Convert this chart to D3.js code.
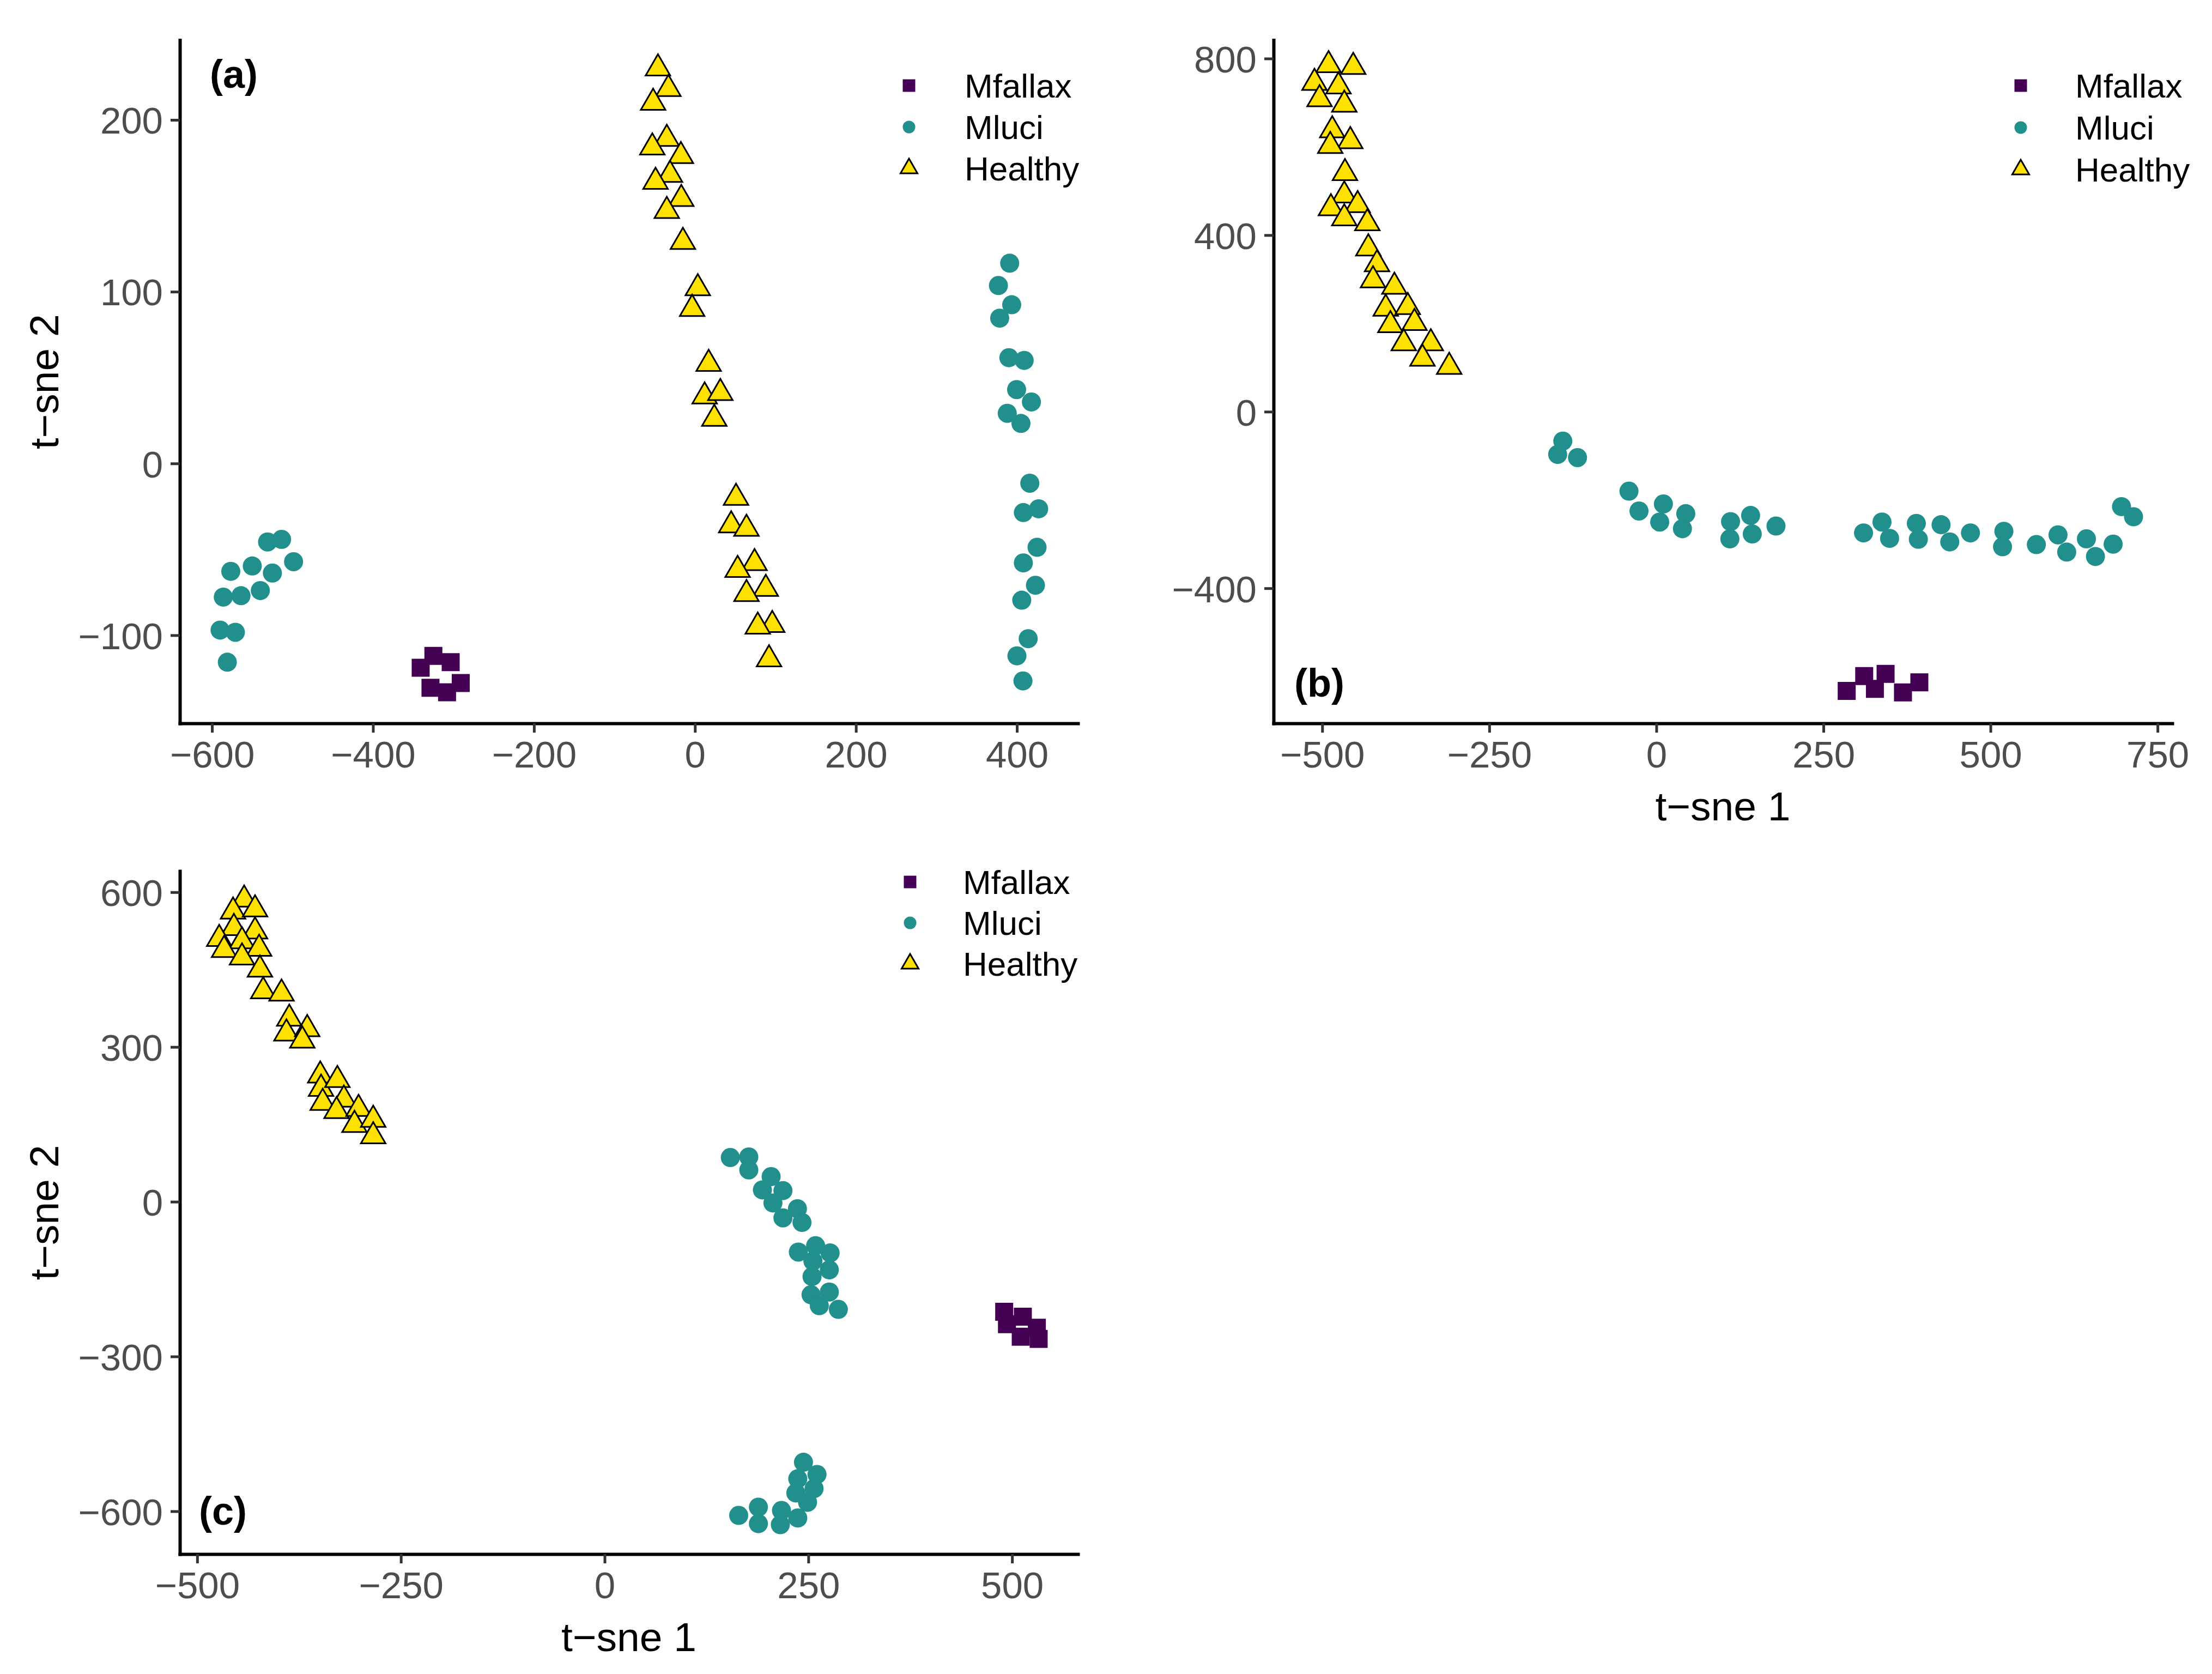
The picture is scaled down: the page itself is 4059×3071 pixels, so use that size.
<!DOCTYPE html>
<html><head><meta charset="utf-8">
<script src="https://cdn.jsdelivr.net/npm/d3@7"></script>
<style>body{margin:0;background:#fff}</style></head><body>
<svg id="chart" width="4059" height="3071" xmlns="http://www.w3.org/2000/svg"></svg>
<script>
// ---------- DATA ----------
const classes = ["Mfallax", "Mluci", "Healthy"];

// Panel (a)
const aXTicks = [-600, -400, -200, 0, 200, 400];
const aYTicks = [-100, 0, 100, 200];
const aHealthy = [[-46,230],[-33,218],[-52,210],[-35,189],[-53,184],[-17.5,179],[-31,168],[-49,164],[-17,154],[-35,147],[-15,129],[3.5,102],[-3.5,90],[17,58],[12,39],[31.5,41],[24,26],[51,-20],[45,-36],[64,-38],[74,-58],[53,-62],[88,-73],[64,-76],[96,-94],[78,-95],[92,-114]];
const aMluci = [[391,116.6],[377,103.6],[393.5,92.4],[378.6,84.6],[390,61.6],[409,60],[399.6,43],[418,35.8],[388,29.2],[405,23.3],[416,-11.5],[408,-28.6],[427,-26.4],[425,-48.8],[408,-57.9],[423,-70.9],[406,-79.6],[414,-102],[400,-112],[407.5,-126.6],
  [-513.6,-44.2],[-531,-45.7],[-498.7,-57.2],[-550,-59.7],[-576.7,-62.8],[-525,-63.8],[-540,-74],[-564,-77],[-586,-77.8],[-590,-97],[-571,-98.3],[-581,-115.7]];
const aMfallax = [[-325,-112],[-303.5,-115.7],[-340.8,-118.9],[-291,-127.8],[-328.6,-130.6],[-308,-133.2]];

// Panel (b)
const bXTicks = [-500, -250, 0, 250, 500, 750];
const bYTicks = [-400, 0, 400, 800];
const bHealthy = [[-490.5,785],[-453.6,781],[-511.6,745],[-475.7,737],[-504,708],[-467,695.5],[-485,637.5],[-458,613],[-488,602],[-466,540.7],[-467,490],[-487,461],[-447,468],[-467,438],[-432.5,427],[-431,370],[-418,334],[-424,297.6],[-392,283],[-405,233.5],[-372,237],[-398,196],[-362,201],[-378,155],[-337.5,155],[-350,120],[-310,101.6]];
const bMluci = [[-140,-66.5],[-147.7,-96.8],[-118,-104],[-41,-180],[-26,-225],[10.5,-209],[5,-250],[44,-231],[39,-265],[111,-249],[141,-235],[110,-288],[143.5,-277],[179,-259],[310,-274.6],[337.6,-250],[349,-287],[389,-253],[392,-289],[426,-256],[439,-295],[470,-274.6],[520,-271],[518,-306],[568.6,-301],[601,-279],[614,-318],[643.5,-288],[657,-328],[683.5,-300],[696,-215],[714,-238]];
const bMfallax = [[284.8,-632.6],[311,-599],[327,-628],[343,-594],[369,-636],[393.5,-613]];

// Panel (c)
const cXTicks = [-500, -250, 0, 250, 500];
const cYTicks = [-600, -300, 0, 300, 600];
const cHealthy = [[-442.4,585.8],[-456,562.5],[-429,566.7],[-455,530.7],[-429,524],[-473,509.5],[-445,505],[-424,490.5],[-467,488],[-445,473.5],[-423,450],[-419,408],[-396.5,403.6],[-387,355],[-390.5,326],[-365,334.7],[-371,312.5],[-349,244.7],[-348,219],[-328,236],[-346,191.7],[-320,198],[-329,175.8],[-302,180],[-307,149],[-284,159],[-284,127]];
const cMluci = [[154.2,85.7],[176.9,86.8],[176.9,61.7],[204.3,48.7],[193.6,22.9],[218.8,21.6],[206.5,-2.4],[236.6,-13.6],[218.8,-31.3],[242.2,-40.1],[237.7,-97.6],[258.9,-85.2],[276.7,-99.3],[255.6,-115.1],[275.7,-132],[254.5,-145.1],[253.3,-180.3],[275.7,-175],[263.4,-201.5],[286.8,-208.6],
  [244,-505],[260.6,-528.6],[237,-537],[234.6,-564.6],[257,-556],[249,-582.6],[164.5,-608],[188.7,-592],[188.7,-624],[217,-598.5],[215.6,-626],[237,-613]];
const cMfallax = [[490.3,-213.4],[513.2,-222.9],[493.7,-237.4],[530.4,-244.1],[510.6,-261.7],[532.6,-265.9]];

// ---------- STYLE / LAYOUT ----------
const fill = {Mfallax: "#440154", Mluci: "#21908C", Healthy: "#FFE100"};
const shapes = {Mfallax: d3.symbolSquare, Mluci: d3.symbolCircle, Healthy: d3.symbolTriangle};
const ptSize = {Mfallax: 33*33, Mluci: Math.PI*17.5*17.5, Healthy: 880};
const keySize = {Mfallax: 23*23, Mluci: Math.PI*11.5*11.5, Healthy: 420};
const FONT = "'Liberation Sans', Arial, Helvetica, sans-serif";

const panels = [
  {label: "(a)", box: {l: 330, r: 1978, t: 73.5, b: 1327}, xDom: [-640, 475.8], yDom: [-151.3, 246.5],
   xt: aXTicks, yt: aYTicks, data: {Mfallax: aMfallax, Mluci: aMluci, Healthy: aHealthy},
   xTitle: false, yTitle: true, legend: {kx: 1668, tx: 1770, y0: 157, dy: 76}, lab: {x: 429, y: 161}},
  {label: "(b)", box: {l: 2337, r: 3986, t: 73.5, b: 1327}, xDom: [-572.8, 771.9], yDom: [-706, 841.9],
   xt: bXTicks, yt: bYTicks, data: {Mfallax: bMfallax, Mluci: bMluci, Healthy: bHealthy},
   xTitle: true, yTitle: false, legend: {kx: 3708, tx: 3808, y0: 157, dy: 77}, lab: {x: 2421, y: 1278}},
  {label: "(c)", box: {l: 330, r: 1978, t: 1598, b: 2851}, xDom: [-521.3, 580.8], yDom: [-683, 641],
   xt: cXTicks, yt: cYTicks, data: {Mfallax: cMfallax, Mluci: cMluci, Healthy: cHealthy},
   xTitle: true, yTitle: true, legend: {kx: 1670, tx: 1767, y0: 1618, dy: 75}, lab: {x: 409, y: 2797}}
];

const svg = d3.select("#chart");
svg.append("rect").attr("width", 4059).attr("height", 3071).attr("fill", "#fff");

panels.forEach(p => {
  const g = svg.append("g");
  const x = d3.scaleLinear().domain(p.xDom).range([p.box.l, p.box.r]);
  const y = d3.scaleLinear().domain(p.yDom).range([p.box.b, p.box.t]);

  // points
  classes.forEach(cls => {
    const sym = d3.symbol().type(shapes[cls]).size(ptSize[cls]);
    g.append("g").selectAll("path").data(p.data[cls]).join("path")
      .attr("d", sym)
      .attr("transform", d => `translate(${x(d[0])},${y(d[1])})`)
      .attr("fill", fill[cls])
      .attr("stroke", cls === "Healthy" ? "#000" : "none")
      .attr("stroke-width", cls === "Healthy" ? 3 : 0)
      .attr("stroke-linejoin", "miter");
  });

  // axes
  const xAxis = d3.axisBottom(x).tickValues(p.xt).tickSizeInner(17).tickSizeOuter(0).tickPadding(15);
  const yAxis = d3.axisLeft(y).tickValues(p.yt).tickSizeInner(17).tickSizeOuter(0).tickPadding(14);
  const gx = g.append("g").attr("transform", `translate(0,${p.box.b})`).call(xAxis);
  const gy = g.append("g").attr("transform", `translate(${p.box.l},0)`).call(yAxis);
  [gx, gy].forEach(ax => {
    ax.select(".domain").attr("stroke", "#000").attr("stroke-width", 6).attr("stroke-linecap", "square");
    ax.selectAll(".tick line").attr("stroke", "#333").attr("stroke-width", 5);
    ax.selectAll(".tick text").attr("fill", "#4D4D4D").style("font-family", FONT).style("font-size", "69px");
  });
  gx.selectAll(".tick text").attr("dy", "0.71em");
  gy.selectAll(".tick text").attr("dy", "0.36em");

  // axis titles
  if (p.xTitle) {
    g.append("text").attr("x", (p.box.l + p.box.r) / 2).attr("y", p.box.b + 178)
      .attr("text-anchor", "middle").style("font-family", FONT).style("font-size", "75px")
      .attr("fill", "#000").text("t\u2212sne 1");
  }
  if (p.yTitle) {
    const cy = (p.box.t + p.box.b) / 2;
    g.append("text").attr("transform", `translate(${107},${cy}) rotate(-90)`)
      .attr("text-anchor", "middle").style("font-family", FONT).style("font-size", "75px")
      .attr("fill", "#000").text("t\u2212sne 2");
  }

  // panel label
  g.append("text").attr("x", p.lab.x).attr("y", p.lab.y).attr("text-anchor", "middle")
    .style("font-family", FONT).style("font-size", "72px").style("font-weight", "bold")
    .attr("fill", "#000").text(p.label);

  // legend
  const lg = g.append("g");
  classes.forEach((cls, i) => {
    const cy = p.legend.y0 + i * p.legend.dy;
    lg.append("path").attr("d", d3.symbol().type(shapes[cls]).size(keySize[cls]))
      .attr("transform", `translate(${p.legend.kx},${cy})`)
      .attr("fill", fill[cls])
      .attr("stroke", cls === "Healthy" ? "#000" : "none")
      .attr("stroke-width", cls === "Healthy" ? 3 : 0);
    lg.append("text").attr("x", p.legend.tx).attr("y", cy).attr("dy", "0.36em")
      .style("font-family", FONT).style("font-size", "62px").attr("fill", "#000").text(cls);
  });
});
</script>
</body></html>
